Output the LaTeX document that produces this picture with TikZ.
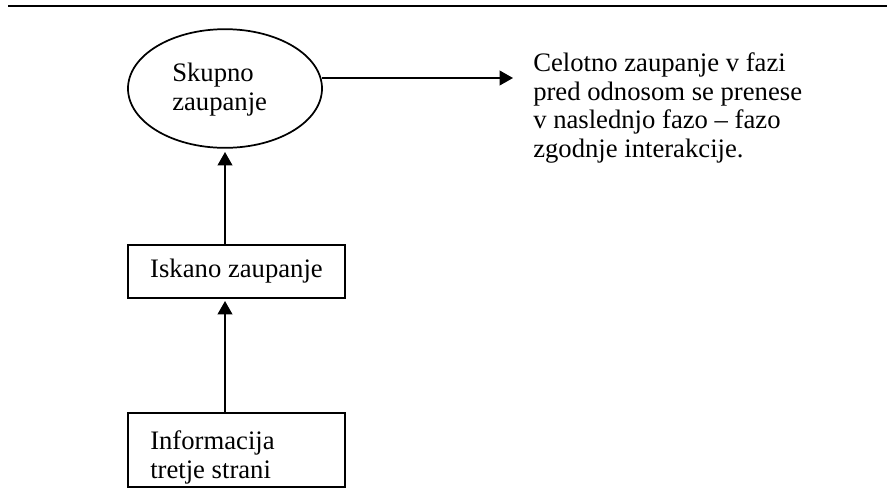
\documentclass[tikz,border=0pt]{standalone}
\usepackage{fontspec}
\setmainfont{Liberation Serif}
\usetikzlibrary{arrows.meta,shapes.geometric}
\begin{document}
\begin{tikzpicture}[x=0.75pt,y=-0.75pt,
  every node/.style={font=\fontsize{20}{21.7}\selectfont},
  frame/.style={draw,line width=1.3pt,inner sep=0pt},
  flow/.style={line width=1.3pt,-{Triangle[width=11pt,length=10pt]}},
  plain/.style={inner sep=0pt,align=left}]
  \useasboundingbox (0,0) rectangle (888,501);
  % rule across the top
  \coordinate (ruleL) at (8,5.5);
  \coordinate (ruleR) at (887,5.5);
  \draw[line width=1.5pt] (ruleL) -- (ruleR);

  % ellipse with the overall trust
  \node[frame,ellipse,minimum width=145.5pt,minimum height=89pt] (skupno) at (225,88.5) {};
  \node[plain,anchor=west] (skupnotxt) at (172,90) {Skupno\\zaupanje};

  % boxes
  \node[frame,minimum width=162.75pt,minimum height=39.75pt] (iskano) at (236.5,271.5) {Iskano zaupanje};
  \node[frame,minimum width=162.75pt,minimum height=55.5pt] (info) at (236.5,450) {};
  \node[plain,anchor=west] (infotxt) at (150,457) {Informacija\\tretje strani};

  % explanation on the right
  \node[plain,anchor=west] (opis) at (533,108) {Celotno zaupanje v fazi\\pred odnosom se prenese\\v naslednjo fazo -- fazo\\zgodnje interakcije.};

  % connectors
  \coordinate (outR) at (322,78);
  \coordinate (tipR) at (513,78);
  \draw[flow] (outR) -- (tipR);
  \draw[flow] (iskano.north -| 225,0) -- (225,152);
  \draw[flow] (info.north -| 225,0) -- (225,301);
\end{tikzpicture}
\end{document}
